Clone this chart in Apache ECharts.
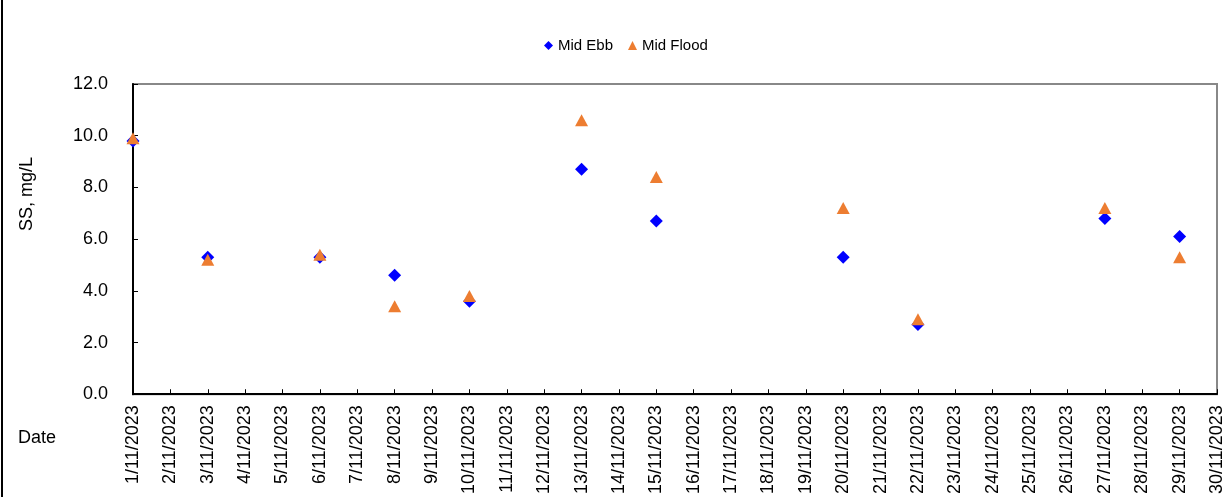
<!DOCTYPE html>
<html>
<head>
<meta charset="utf-8">
<script src="https://cdn.jsdelivr.net/npm/echarts@6/dist/echarts.min.js"></script>
<style>
html,body{margin:0;padding:0;background:#fff;}
#main{width:1229px;height:497px;}
</style>
</head>
<body>
<div id="main"></div>
<script>
var dates = [];
for (var d = 1; d <= 30; d++) dates.push(d + '/11/2023');
var ebbDates = ['1/11/2023','3/11/2023','6/11/2023','8/11/2023','10/11/2023','13/11/2023','15/11/2023','20/11/2023','22/11/2023','27/11/2023','29/11/2023'];
var ebbValues = [9.8, 5.3, 5.3, 4.6, 3.6, 8.7, 6.7, 5.3, 2.7, 6.8, 6.1];
var floodDates = ['1/11/2023','3/11/2023','6/11/2023','8/11/2023','10/11/2023','13/11/2023','15/11/2023','20/11/2023','22/11/2023','27/11/2023','29/11/2023'];
var floodValues = [9.9, 5.2, 5.4, 3.4, 3.8, 10.6, 8.4, 7.2, 2.9, 7.2, 5.3];
var yTicks = { min: 0, max: 12, interval: 2 };

var FONT = '"Liberation Sans", Arial, sans-serif';
function pairs(ds, vs) { return ds.map(function (d, i) { return [d, vs[i]]; }); }

var chart = echarts.init(document.getElementById('main'), null, { renderer: 'canvas' });
chart.setOption({
  animation: false,
  backgroundColor: '#fff',
  textStyle: { fontFamily: FONT },
  legend: {
    top: 33, left: 539,
    itemWidth: 9, itemHeight: 9, itemGap: 15,
    textStyle: { fontFamily: FONT, fontSize: 15, color: '#000' },
    data: [
      { name: 'Mid Ebb', icon: 'diamond' },
      { name: 'Mid Flood', icon: 'triangle' }
    ]
  },
  grid: {
    left: 133, top: 84, right: 12, bottom: 101,
    show: true, borderColor: '#888', borderWidth: 2, backgroundColor: 'transparent'
  },
  xAxis: {
    type: 'category',
    data: dates,
    boundaryGap: false,
    axisLine: { lineStyle: { color: '#000', width: 2 } },
    axisTick: { inside: true, length: 5, alignWithLabel: true, lineStyle: { color: '#000' } },
    axisLabel: { rotate: 90, interval: 0, margin: 11, fontSize: 18, color: '#000', fontFamily: FONT },
    splitLine: { show: false }
  },
  yAxis: {
    type: 'value',
    min: yTicks.min, max: yTicks.max, interval: yTicks.interval,
    axisLine: { show: true, lineStyle: { color: '#000', width: 2 } },
    axisTick: { show: true, inside: true, length: 5, lineStyle: { color: '#000' } },
    axisLabel: { margin: 25, fontSize: 18, color: '#000', fontFamily: FONT,
      formatter: function (v) { return v.toFixed(1); } },
    splitLine: { show: false }
  },
  graphic: [
    { type: 'line', shape: { x1: 2, y1: 0, x2: 2, y2: 497 }, style: { stroke: '#000', lineWidth: 2 } },
    { type: 'text', x: 27, y: 194, rotation: Math.PI / 2,
      style: { text: 'SS, mg/L', fontSize: 18, fontFamily: FONT, fill: '#000', textAlign: 'center', textVerticalAlign: 'middle' } },
    { type: 'text', x: 18, y: 438,
      style: { text: 'Date', fontSize: 18, fontFamily: FONT, fill: '#000', textAlign: 'left', textVerticalAlign: 'middle' } }
  ],
  series: [
    { name: 'Mid Ebb', type: 'scatter', symbol: 'diamond', symbolSize: 13,
      itemStyle: { color: '#0000FF', opacity: 1 }, data: pairs(ebbDates, ebbValues) },
    { name: 'Mid Flood', type: 'scatter', symbol: 'triangle', symbolSize: [13, 12],
      itemStyle: { color: '#ED7D31', opacity: 1 }, data: pairs(floodDates, floodValues) }
  ]
});
</script>
</body>
</html>
